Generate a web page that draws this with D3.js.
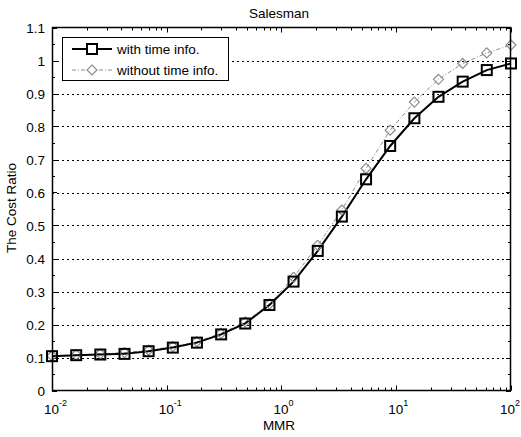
<!DOCTYPE html>
<meta charset="utf-8">
<style>
body { margin: 0; background: #fff; }
svg { font-family: "Liberation Sans", Arial, sans-serif; }
.grid line { stroke: #000; stroke-width: 1px; stroke-dasharray: 2,3; }
.tick-label { font-size: 13.5px; fill: #000; }
</style>
<body>
<div id="chart"></div>
</body>
<script src="https://d3js.org/d3.v7.min.js"></script>
<script>

// MMR sample points: exponents of 10 (20 points from 10^-2 to 10^2)
var mmrExp = [-2, -1.789, -1.579, -1.368, -1.158, -0.947, -0.737, -0.526, -0.316, -0.105,
              0.105, 0.316, 0.526, 0.737, 0.947, 1.158, 1.368, 1.579, 1.789, 2];
var withTime = [0.104, 0.107, 0.109, 0.111, 0.119, 0.130, 0.145, 0.170, 0.203, 0.259,
                0.330, 0.423, 0.527, 0.640, 0.741, 0.825, 0.890, 0.936, 0.971, 0.991];
var withoutTime = [0.105, 0.108, 0.111, 0.115, 0.122, 0.133, 0.148, 0.173, 0.208, 0.262,
                   0.343, 0.440, 0.547, 0.673, 0.789, 0.874, 0.943, 0.991, 1.023, 1.047];
var seriesNames = ["with time info.", "without time info."];
var yTicks = [0, 0.1, 0.2, 0.3, 0.4, 0.5, 0.6, 0.7, 0.8, 0.9, 1, 1.1];
var xTicks = [-2, -1, 0, 1, 2];

var W = 521, H = 437;
var plotL = 52, plotR = 511, plotT = 27.5, plotB = 390.5;

var x = d3.scaleLog().domain([0.01, 100]).range([plotL, plotR]);
var y = d3.scaleLinear().domain([0, 1.1]).range([plotB, plotT]);

var svg = d3.select("#chart").append("svg")
    .attr("width", W)
    .attr("height", H);

svg.append("rect").attr("width", W).attr("height", H).attr("fill", "#fff");

// dotted horizontal grid
svg.append("g").attr("class", "grid")
  .selectAll("line")
  .data(yTicks.filter(function(d) { return d > 0 && d < 1.1; }))
  .enter().append("line")
    .attr("x1", plotL).attr("x2", plotR)
    .attr("y1", function(d) { return Math.round(y(d)) + 0.5; })
    .attr("y2", function(d) { return Math.round(y(d)) + 0.5; });

// inside ticks, bottom/top (log minor) and left/right
var ticks = svg.append("g").attr("stroke", "#000").attr("stroke-width", 1);
var xMinor = [];
for (var e = -2; e < 2; e++) {
  for (var k = 1; k < 10; k++) xMinor.push({v: k * Math.pow(10, e), major: k == 1});
}
xMinor.push({v: 100, major: true});
xMinor.forEach(function(t) {
  var px = Math.round(x(t.v)) + 0.5, len = t.major ? 5 : 3;
  ticks.append("line").attr("x1", px).attr("x2", px).attr("y1", plotB).attr("y2", plotB - len);
  ticks.append("line").attr("x1", px).attr("x2", px).attr("y1", plotT).attr("y2", plotT + len);
});
d3.range(0, 23).forEach(function(i) {
  var v = i * 0.05, py = Math.round(y(v)) + 0.5, len = i % 2 == 0 ? 5 : 3;
  ticks.append("line").attr("x1", plotL).attr("x2", plotL + len).attr("y1", py).attr("y2", py);
  ticks.append("line").attr("x1", plotR).attr("x2", plotR - len).attr("y1", py).attr("y2", py);
});

// series
var data = mmrExp.map(function(e, i) {
  return {x: Math.pow(10, e), a: withTime[i], b: withoutTime[i]};
});

var lineA = d3.line().x(function(d) { return x(d.x); }).y(function(d) { return y(d.a); });
var lineB = d3.line().x(function(d) { return x(d.x); }).y(function(d) { return y(d.b); });

svg.append("path").datum(data)
    .attr("d", lineB)
    .attr("fill", "none")
    .attr("stroke", "#8c8c8c")
    .attr("stroke-width", 1)
    .attr("stroke-dasharray", "4,2,1,2");

svg.append("path").datum(data)
    .attr("d", lineA)
    .attr("fill", "none")
    .attr("stroke", "#000")
    .attr("stroke-width", 2);

var diamond = function(cx, cy) {
  var r = 5;
  return "M" + cx + "," + (cy - r) + "L" + (cx + r) + "," + cy + "L" + cx + "," + (cy + r) + "L" + (cx - r) + "," + cy + "Z";
};

svg.append("g").selectAll("path")
  .data(data).enter().append("path")
    .attr("d", function(d) { return diamond(x(d.x), y(d.b)); })
    .attr("fill", "none")
    .attr("stroke", "#8c8c8c")
    .attr("stroke-width", 1.2);

svg.append("g").selectAll("rect")
  .data(data).enter().append("rect")
    .attr("x", function(d) { return x(d.x) - 5; })
    .attr("y", function(d) { return y(d.a) - 5; })
    .attr("width", 10).attr("height", 10)
    .attr("fill", "none")
    .attr("stroke", "#000")
    .attr("stroke-width", 2);

// axes box
svg.append("rect")
    .attr("x", plotL + 0.5).attr("y", plotT)
    .attr("width", plotR - plotL - 1).attr("height", plotB - plotT)
    .attr("fill", "none")
    .attr("stroke", "#000")
    .attr("stroke-width", 1.5);

// y tick labels
svg.append("g").selectAll("text")
  .data(yTicks).enter().append("text")
    .attr("class", "tick-label")
    .attr("x", 45)
    .attr("y", function(d) { return y(d) + 5; })
    .attr("text-anchor", "end")
    .text(function(d) { return d; });

// x tick labels 10^n (last one nudged so it stays inside the window)
var xl = svg.append("g").selectAll("g")
  .data(xTicks).enter().append("text")
    .attr("class", "tick-label")
    .attr("x", function(d) { return Math.min(x(Math.pow(10, d)) - 8, 500); })
    .attr("y", 414);
xl.append("tspan").text("10");
xl.append("tspan").attr("dy", -8).attr("font-size", "9px").text(function(d) { return d; });

// titles
svg.append("text")
    .attr("x", 279).attr("y", 18)
    .attr("text-anchor", "middle")
    .attr("font-size", "13.5px")
    .text("Salesman");

svg.append("text")
    .attr("x", 279).attr("y", 430)
    .attr("text-anchor", "middle")
    .attr("font-size", "13.5px")
    .text("MMR");

svg.append("text")
    .attr("transform", "translate(16,208) rotate(-90)")
    .attr("text-anchor", "middle")
    .attr("font-size", "13.5px")
    .text("The Cost Ratio");

// legend
var lg = svg.append("g");
lg.append("rect")
    .attr("x", 62.5).attr("y", 37.5)
    .attr("width", 166).attr("height", 43)
    .attr("fill", "#fff")
    .attr("stroke", "#000")
    .attr("stroke-width", 1);

var legendRows = lg.selectAll("g.row")
  .data(seriesNames).enter().append("g")
    .attr("class", "row")
    .attr("transform", function(d, i) { return "translate(0," + (49 + i * 21) + ")"; });

legendRows.append("line")
    .attr("x1", 72).attr("x2", 112)
    .attr("stroke", function(d, i) { return i == 0 ? "#000" : "#8c8c8c"; })
    .attr("stroke-width", function(d, i) { return i == 0 ? 2 : 1; })
    .attr("stroke-dasharray", function(d, i) { return i == 0 ? null : "4,2,1,2"; });

legendRows.filter(function(d, i) { return i == 0; }).append("rect")
    .attr("x", 87).attr("y", -5).attr("width", 10).attr("height", 10)
    .attr("fill", "#fff").attr("stroke", "#000").attr("stroke-width", 2);
legendRows.filter(function(d, i) { return i == 1; }).append("path")
    .attr("d", diamond(92, 0))
    .attr("fill", "#fff").attr("stroke", "#8c8c8c").attr("stroke-width", 1.2);

legendRows.append("text")
    .attr("x", 117).attr("y", 5)
    .attr("font-size", "13.5px")
    .text(function(d) { return d; });

</script>
